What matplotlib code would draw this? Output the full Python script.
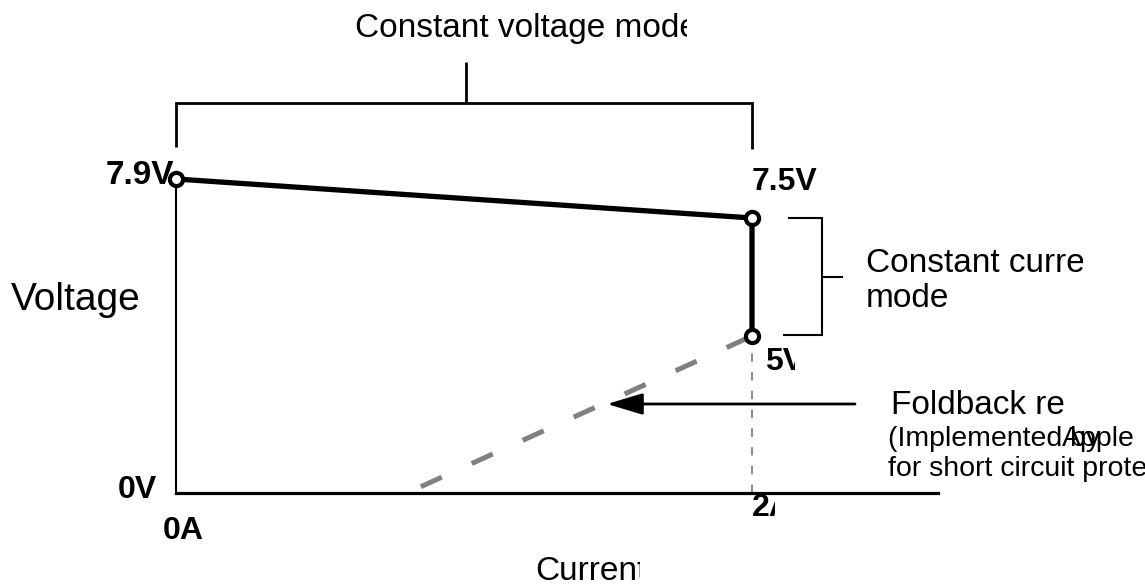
import numpy as np
import matplotlib
matplotlib.use("Agg")
import matplotlib.pyplot as plt
from matplotlib.transforms import Bbox

# ---------------- data ----------------
current_pts = [0.0, 2.0, 2.0]          # A
voltage_pts = [7.9, 7.5, 5.0]          # V
foldback_current = [0.85, 2.0]
foldback_voltage = [0.2, 5.0]
limit_current = [2.0, 2.0]
limit_voltage = [0.0, 5.0]
x_labels = ["0A", "2A"]
y_labels = ["0V", "5V", "7.5V", "7.9V"]
mode_labels = ["Constant voltage mode", "Constant curre", "mode"]
foldback_labels = ["Foldback reg", "(Implemented by", "Apple", "for short circuit protection"]
axis_titles = ["Voltage", "Current"]

# schematic (non-linear) voltage scale of the drawing
v_knots = np.array([0.0, 5.0, 7.5, 7.9])
h_knots = np.array([0.0, 157.0, 275.0, 314.0])


def fwd(v):
    v = np.asarray(v, dtype=float)
    out = np.interp(v, v_knots, h_knots)
    s_lo = (h_knots[1] - h_knots[0]) / (v_knots[1] - v_knots[0])
    s_hi = (h_knots[-1] - h_knots[-2]) / (v_knots[-1] - v_knots[-2])
    out = np.where(v < v_knots[0], h_knots[0] + (v - v_knots[0]) * s_lo, out)
    out = np.where(v > v_knots[-1], h_knots[-1] + (v - v_knots[-1]) * s_hi, out)
    return out


def inv(h):
    h = np.asarray(h, dtype=float)
    out = np.interp(h, h_knots, v_knots)
    s_lo = (v_knots[1] - v_knots[0]) / (h_knots[1] - h_knots[0])
    s_hi = (v_knots[-1] - v_knots[-2]) / (h_knots[-1] - h_knots[-2])
    out = np.where(h < h_knots[0], v_knots[0] + (h - h_knots[0]) * s_lo, out)
    out = np.where(h > h_knots[-1], v_knots[-1] + (h - h_knots[-1]) * s_hi, out)
    return out


W, H = 1145, 586
DPI = 100
fig = plt.figure(figsize=(W / DPI, H / DPI), dpi=DPI)
fig.patch.set_facecolor("white")

FONT = "Liberation Sans"

# ---------------- data axes ----------------
x0px, x1px, ytop, ybot = 176, 938, 179, 493
ax = fig.add_axes([x0px / W, (H - ybot) / H, (x1px - x0px) / W, (ybot - ytop) / H])
ax.set_yscale("function", functions=(fwd, inv))
ax.set_xlim(0, (x1px - x0px) / 288.0)
ax.set_ylim(0, 7.9)
ax.patch.set_alpha(0)
for s in ["top", "right"]:
    ax.spines[s].set_visible(False)
ax.spines["bottom"].set_linewidth(2.3)
ax.spines["left"].set_linewidth(1.5)
ax.set_xticks([])
ax.set_yticks([])

ax.plot(limit_current, limit_voltage, color="#8c8c8c", lw=1.5,
        linestyle=(0, (4, 5)), zorder=2, clip_on=False)
ax.plot(foldback_current, foldback_voltage, color="#808080", lw=3.6,
        linestyle=(0, (4.6, 6.6)), solid_capstyle="butt", dash_capstyle="butt",
        zorder=2, clip_on=False)
ax.plot(current_pts, voltage_pts, color="black", lw=3.8, zorder=3,
        solid_capstyle="butt", clip_on=False)
ax.plot(current_pts, voltage_pts, linestyle="none", marker="o", ms=9.5,
        mfc="white", mec="black", mew=3.0, zorder=4, clip_on=False)

# ---------------- overlay (pixel) axes for annotations ----------------
ov = fig.add_axes([0, 0, 1, 1])
ov.set_xlim(0, W)
ov.set_ylim(H, 0)
ov.axis("off")
ov.patch.set_alpha(0)


def line(xs, ys, lw=2.0):
    ov.plot(xs, ys, color="black", lw=lw, solid_capstyle="butt",
            solid_joinstyle="miter")


def txt(x, y, s, size, bold=False, clip=None):
    t = ov.text(x, y, s, fontsize=size, fontfamily=FONT,
                fontweight="bold" if bold else "normal",
                ha="left", va="baseline", color="black")
    if clip is not None:
        t.set_clip_box(Bbox.from_extents(0, 0, clip, H))
        t.set_clip_on(True)
    return t

# constant voltage bracket
line([176, 176, 752, 752], [147, 103, 103, 149], lw=2.0)
line([466, 466], [62, 103], lw=2.0)
# constant current bracket
line([788, 822, 822, 783], [218, 218, 335, 335], lw=1.5)
line([822, 843], [277, 277], lw=1.5)
# foldback arrow
ov.annotate("", xy=(607, 404), xytext=(855, 404),
            arrowprops=dict(arrowstyle="-|>,head_length=1.1,head_width=0.33",
                            mutation_scale=20, lw=2.0, color="black",
                            shrinkA=0, shrinkB=0))

# texts
txt(355, 37, mode_labels[0], 24, clip=687)
txt(106, 184, y_labels[3], 24, bold=True)
txt(752, 190, y_labels[2], 23, bold=True)
txt(765, 370, y_labels[1], 23, bold=True, clip=795)
txt(118, 498, y_labels[0], 23, bold=True)
txt(163, 539, x_labels[0], 23, bold=True)
txt(752, 516, x_labels[1], 23, bold=True, clip=775)
txt(11, 310, axis_titles[0], 28)
txt(535, 580, axis_titles[1], 24, clip=640)
txt(866, 272, mode_labels[1], 24, clip=1083)
txt(866, 307, mode_labels[2], 24)
txt(891, 414, foldback_labels[0], 24, clip=1064)
FS = 20.5
txt(888, 446, foldback_labels[1], FS)
txt(888, 476, foldback_labels[3], FS)

# "Apple" overprints the end of the first line, as in the original
renderer = fig.canvas.get_renderer()
probe = ov.text(888, 446, foldback_labels[1][:-3], fontsize=FS, fontfamily=FONT,
                ha="left", va="baseline")
ext = probe.get_window_extent(renderer=renderer)
probe.remove()
txt(ext.x1, 446, foldback_labels[2], FS)

fig.savefig("out.png", dpi=DPI, facecolor="white")
